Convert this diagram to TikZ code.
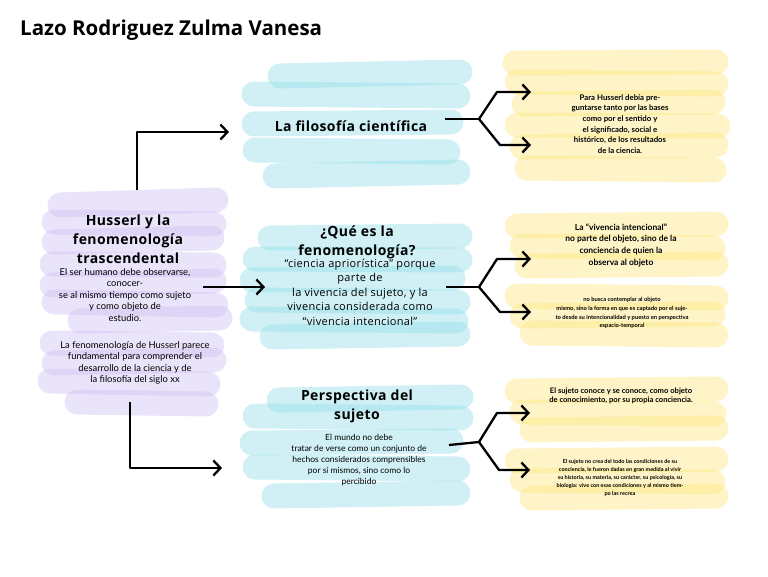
\documentclass[tikz,border=0pt]{standalone}
\usepackage{fontspec}
\setmainfont{Open Sans}
\newfontfamily\headfont[LetterSpace=3]{Open Sans}
\newfontfamily\smallfont{Lato}
\usepackage{xcolor}
\usetikzlibrary{arrows.meta}

\definecolor{brushcyan}{RGB}{150,222,232}
\definecolor{brushviolet}{RGB}{205,190,242}
\definecolor{brushyellow}{RGB}{252,230,130}

\tikzset{
  cyanbrush/.style={draw=brushcyan, line width=25pt, line cap=round, draw opacity=0.45},
  violetbrush/.style={draw=brushviolet, line width=25pt, line cap=round, draw opacity=0.42},
  yellowbrush/.style={draw=brushyellow, line width=25pt, line cap=round, draw opacity=0.45},
  link/.style={line width=2.3pt, line join=round},
  arr/.style={link, -{Straight Barb[length=7pt,width=15pt]}},
  head/.style={align=center, font=\headfont\fontsize{14}{19}\selectfont\bfseries},
  txt/.style={align=center, inner sep=0pt},
}

\begin{document}
\begin{tikzpicture}[x=1pt,y=-1pt]
\useasboundingbox (0,0) rectangle (768,576);

% brush strokes
\foreach \a/\b/\c/\d in {60/205/216/200, 54/222/214/224, 54/242/212/238, 52/264/214/265,
  52/285/214/281, 54/302/216/305, 80/321/220/318, 52/343/212/345, 54/363/214/360,
  50/381/208/384, 77/402/206/404}
  \draw[violetbrush] (\a,\b) -- (\c,\d);

\foreach \a/\b/\c/\d in {280/76/460/72, 254/94/458/96, 254/124/451/122, 255/150/448/152,
  275/176/458/172, 270/238/460/236, 255/259/460/260, 252/280/453/278, 257/300/458/302,
  252/319/456/321, 272/337/458/334, 279/400/461/397, 255/416/461/418, 252/443/451/441,
  255/467/458/469, 274/496/458/493}
  \draw[cyanbrush] (\a,\b) -- (\c,\d);

\foreach \a/\b/\c/\d in {515/63/716/62, 517/82/716/84, 524/104/713/102, 517/125/718/126,
  522/147/716/145, 527/168/714/170, 517/226/716/224, 522/246/713/248, 527/266/716/264,
  517/296/716/298, 522/316/713/314, 532/333/716/335, 517/391/716/389, 522/412/714/414,
  532/430/716/428, 517/461/716/459, 522/480/713/482, 532/498/716/496}
  \draw[yellowbrush] (\a,\b) -- (\c,\d);

% title
\node[anchor=west, inner sep=0pt, font=\fontsize{20.5}{25}\selectfont\bfseries] at (20,30) (title) {Lazo Rodriguez Zulma Vanesa};

% left block
\node[head] at (128,239) (husserl) {Husserl y la\\fenomenología\\trascendental};
\node[txt, font=\smallfont\fontsize{9.4}{11.5}\selectfont] at (125,295) (humano) {El ser humano debe observarse,\\conocer-\\se al mismo tiempo como sujeto\\y como objeto de\\estudio.};
\node[txt, font=\smallfont\fontsize{9.4}{11.3}\selectfont] at (135,363) (siglo) {La fenomenología de Husserl parece\\fundamental para comprender el\\desarrollo de la ciencia y de\\la filosofía del siglo xx};

% middle blocks
\node[head] at (351,126) (filo) {La filosofía científica};
\node[head] at (357,242) (que) {¿Qué es la\\fenomenología?};
\node[txt, font=\headfont\fontsize{11}{14.5}\selectfont] at (360,292) (apriori) {“ciencia apriorística” porque\\parte de\\la vivencia del sujeto, y la\\vivencia considerada como\\“vivencia intencional”};
\node[head] at (357,406) (persp) {Perspectiva del\\sujeto};
\node[txt, font=\smallfont\fontsize{8.5}{11}\selectfont] at (359,460) (mundo) {El mundo no debe\\tratar de verse como un conjunto de\\hechos considerados comprensibles\\por sí mismos, sino como lo\\percibido};

% right blocks
\node[txt, font=\smallfont\fontsize{7.8}{10.6}\selectfont\bfseries] at (620,124) (bases) {Para Husserl debía pre-\\guntarse tanto por las bases\\como por el sentido y\\el significado, social e\\histórico, de los resultados\\de la ciencia.};
\node[txt, font=\smallfont\fontsize{8.5}{11.7}\selectfont\bfseries] at (621,245) (vivencia) {La “vivencia intencional”\\no parte del objeto, sino de la\\conciencia de quien la\\observa al objeto};
\node[txt, font=\smallfont\fontsize{5.8}{8.7}\selectfont\bfseries] at (622,313) (contemplar) {no busca contemplar al objeto\\mismo, sino la forma en que es captado por el suje-\\to desde su intencionalidad y puesto en perspectiva\\espacio-temporal};
\node[txt, font=\smallfont\fontsize{7.6}{9.5}\selectfont\bfseries] at (621,396) (conoce) {El sujeto conoce y se conoce, como objeto\\de conocimiento, por su propia conciencia.};
\node[txt, font=\smallfont\fontsize{5.5}{7.8}\selectfont\bfseries] at (620,478) (crea) {El sujeto no crea del todo las condiciones de su\\conciencia, le fueron dadas en gran medida al vivir\\su historia, su materia, su carácter, su psicología, su\\biología: vive con esas condiciones y al mismo tiem-\\po las recrea};

% connectors
\coordinate (hubtop) at (137,190);
\coordinate (filoin) at (229,132);
\coordinate (hubmid) at (203,287);
\coordinate (quein) at (265,287);
\coordinate (hubbot) at (130,402);
\coordinate (perin) at (222,468);
\draw[arr] (hubtop) |- (filoin);
\draw[arr] (hubmid) -- (quein);
\draw[arr] (hubbot) |- (perin);

\coordinate (s1) at (445,119);
\coordinate (j1) at (479,119);
\coordinate (s2) at (446,287);
\coordinate (j2) at (479,287);
\coordinate (s3) at (449,445);
\coordinate (j3) at (479,442);
\draw[link] (s1) -- (j1);
\draw[arr] (j1) -- (497,92) -- (531,92);
\draw[arr] (j1) -- (500,145) -- (531,145);
\draw[link] (s2) -- (j2);
\draw[arr] (j2) -- (497,259) -- (531,259);
\draw[arr] (j2) -- (500,312) -- (531,312);
\draw[link] (s3) -- (j3);
\draw[arr] (j3) -- (497,413) -- (530,413);
\draw[arr] (j3) -- (499,470) -- (530,470);

\end{tikzpicture}
\end{document}
